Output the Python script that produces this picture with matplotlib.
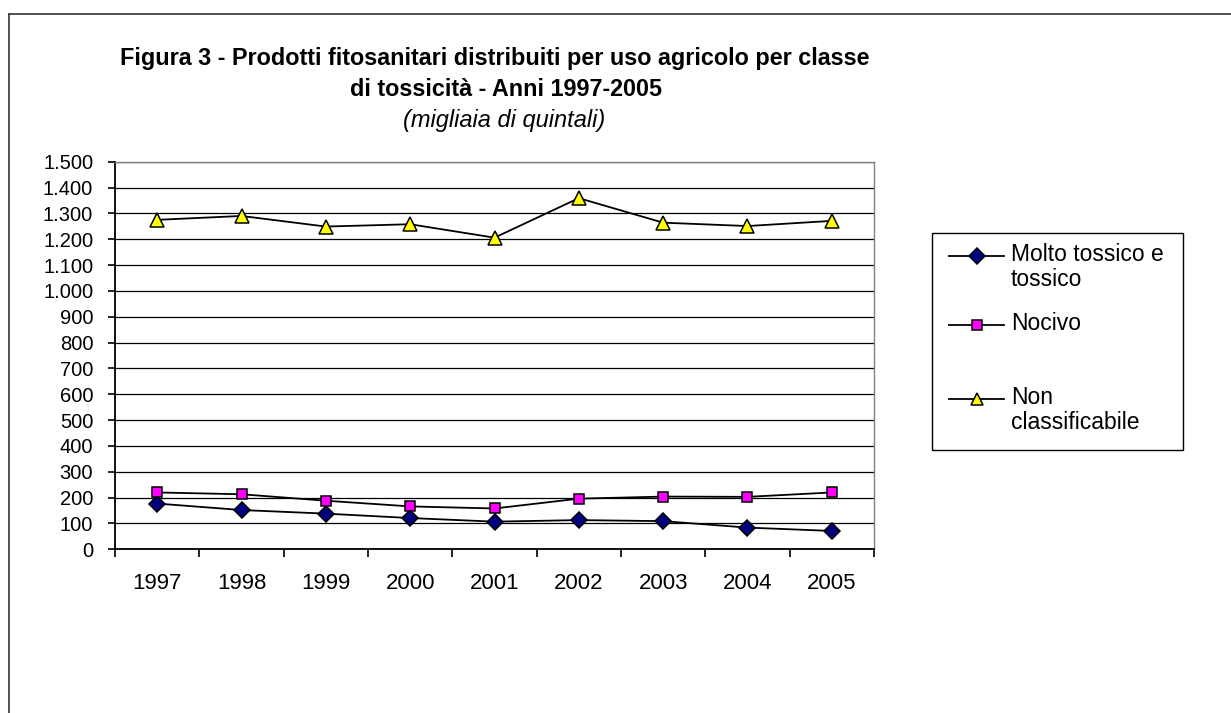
import matplotlib
matplotlib.use("Agg")
import matplotlib.pyplot as plt
from matplotlib.lines import Line2D
from matplotlib.patches import Rectangle
from matplotlib.ticker import FixedLocator, FuncFormatter

plt.rcParams['font.family'] = ['Liberation Sans', 'DejaVu Sans']

years = ['1997', '1998', '1999', '2000', '2001', '2002', '2003', '2004', '2005']
molto_tossico = [177, 152, 138, 121, 107, 113, 109, 84, 71]
nocivo = [220, 213, 188, 166, 158, 196, 204, 203, 220]
non_classificabile = [1275, 1290, 1249, 1258, 1206, 1359, 1264, 1251, 1271]
series_labels = ['Molto tossico e\ntossico', 'Nocivo', 'Non\nclassificabile']

W, H = 1231, 713
fig = plt.figure(figsize=(W / 100, H / 100), dpi=100)
fig.patch.set_facecolor('white')


def fx(x):
    return x / W


def fy(y):
    return 1 - y / H


# outer chart frame (only top and left visible)
fig.add_artist(Line2D([fx(9), fx(9)], [fy(14), 0], transform=fig.transFigure, color='#333333', lw=1.2))
fig.add_artist(Line2D([fx(9), 1], [fy(14), fy(14)], transform=fig.transFigure, color='#333333', lw=1.2))

left, right, top, bottom = 115, 874, 161.7, 549.3
ax = fig.add_axes([fx(left), fy(bottom), fx(right - left), (bottom - top) / H])

x = list(range(len(years)))
styles = [
    (molto_tossico, 'D', '#000080', 8.5),
    (nocivo, 's', '#FF00FF', 7.5),
    (non_classificabile, '^', '#FFFF00', 9.5),
]
for vals, mk, col, ms in styles:
    ax.plot(x, vals, color='black', lw=1.3, marker=mk, markerfacecolor=col,
            markeredgecolor='black', markeredgewidth=1.1, markersize=ms, zorder=3,
            clip_on=False)

ax.set_xlim(-0.5, len(years) - 0.5)
ax.set_ylim(0, 1500)
yt = list(range(0, 1501, 100))
ax.set_yticks(yt)
ax.yaxis.set_major_formatter(FuncFormatter(lambda v, p: f"{int(v):,}".replace(',', '.')))
ax.grid(axis='y', color='black', lw=0.9)
ax.set_axisbelow(True)

ax.xaxis.set_major_locator(FixedLocator([i - 0.5 for i in range(len(years) + 1)]))
ax.xaxis.set_minor_locator(FixedLocator(x))
ax.set_xticklabels([])
ax.set_xticklabels(years, minor=True)
ax.tick_params(axis='x', which='major', length=6, width=1.2, color='black', direction='out')
ax.tick_params(axis='x', which='minor', length=0, labelsize=16, pad=17)
ax.tick_params(axis='y', length=5.3, width=1.2, color='black', direction='out', labelsize=14.5, pad=10.4)

for s in ['left', 'bottom']:
    ax.spines[s].set_color('black')
    ax.spines[s].set_linewidth(1.3)
for s in ['top', 'right']:
    ax.spines[s].set_color('#808080')
    ax.spines[s].set_linewidth(1.0)

# Titles
tx = (left + right) / 2
fig.text(fx(tx), fy(59), 'Figura 3 - Prodotti fitosanitari distribuiti per uso agricolo per classe',
         ha='center', va='center', fontsize=16.8, fontweight='bold')
fig.text(fx(tx + 12), fy(90), 'di tossicità - Anni 1997-2005',
         ha='center', va='center', fontsize=16.8, fontweight='bold')
fig.text(fx(tx + 10), fy(120), '(migliaia di quintali)',
         ha='center', va='center', fontsize=17, fontstyle='italic')

# Legend (manual, Excel-like)
fig.add_artist(Rectangle((fx(932), fy(450)), fx(1183 - 932), (450 - 233) / H,
                         transform=fig.transFigure, facecolor='white', edgecolor='black', lw=1.0))
entry_y = [256, 325, 399]
for (vals, mk, col, ms), lab, ey in zip(styles, series_labels, entry_y):
    fig.add_artist(Line2D([fx(949), fx(1004)], [fy(ey), fy(ey)], transform=fig.transFigure,
                          color='black', lw=1.3))
    fig.add_artist(Line2D([fx(976.5)], [fy(ey)], transform=fig.transFigure, marker=mk,
                          markerfacecolor=col, markeredgecolor='black', markeredgewidth=1.1,
                          markersize=ms * 0.9, lw=0))
    fig.text(fx(1011), fy(ey - 13), lab, ha='left', va='top', fontsize=16.5, linespacing=1.12)

fig.savefig('out.png', dpi=100, facecolor='white')
